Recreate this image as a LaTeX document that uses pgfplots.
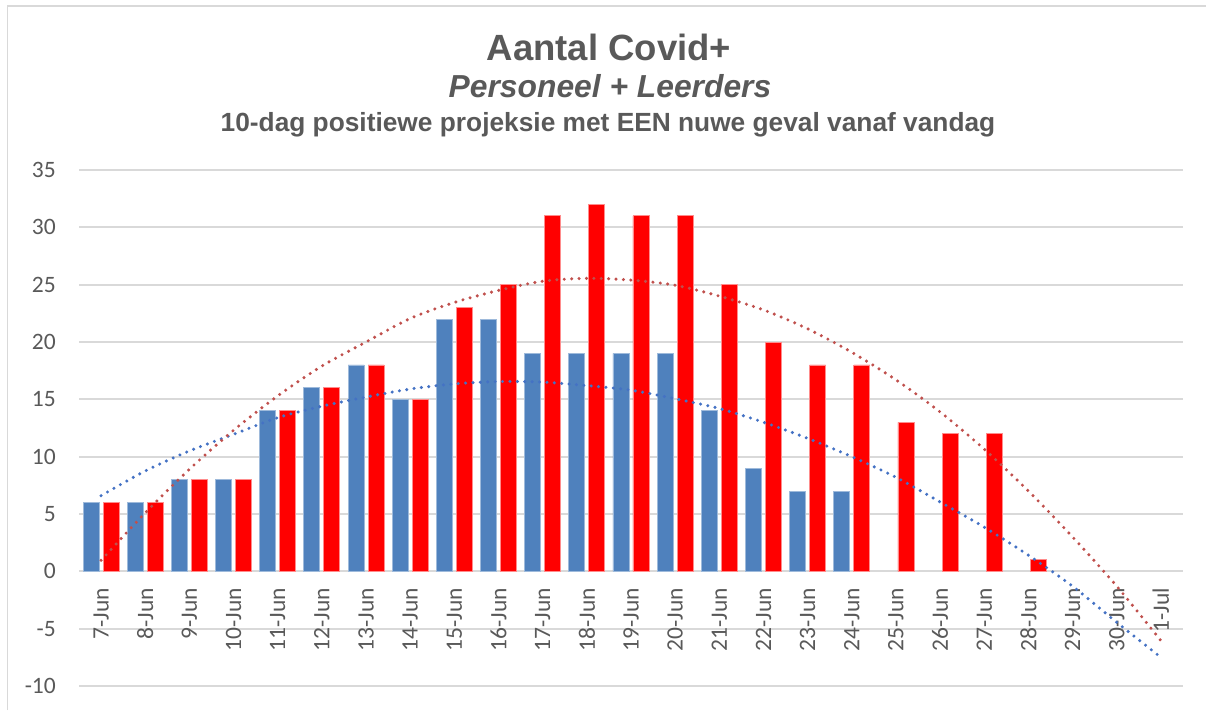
\documentclass[border=0pt]{standalone}
\usepackage{pgfplots}
\pgfplotsset{compat=1.18}
\usepackage{fontspec}
\setmainfont{Liberation Sans}
\newfontfamily\calibri{Carlito}
\definecolor{txtgray}{HTML}{595959}
\definecolor{gridgray}{HTML}{D9D9D9}
\definecolor{barblue}{HTML}{4F81BD}
\definecolor{barred}{HTML}{FF0000}
\definecolor{trendblue}{HTML}{4472C4}
\definecolor{trendred}{HTML}{C0504D}
\begin{document}
\begin{tikzpicture}[x=1pt,y=1pt]
\path[use as bounding box] (0,0) rectangle (1206,710);
\draw[gridgray, line width=1.2pt] (7.5,0) -- (7.5,704) -- (1206,704);
\node[anchor=base, font=\bfseries\fontsize{36.5}{40}\selectfont, text=txtgray] at (609,649) {Aantal Covid+};
\node[anchor=base, font=\bfseries\itshape\fontsize{31.8}{36}\selectfont, text=txtgray] at (610,612) {Personeel + Leerders};
\node[anchor=base, font=\bfseries\fontsize{26.3}{30}\selectfont, text=txtgray] at (608,578) {10-dag positiewe projeksie met EEN nuwe geval vanaf vandag};
\begin{axis}[
  at={(79pt,24pt)}, anchor=south west,
  scale only axis, width=1104pt, height=516pt,
  xmin=-0.5, xmax=24.5, ymin=-10, ymax=35,
  ytick={-10,-5,0,5,10,15,20,25,30,35},
  xtick={0,...,24},
  xticklabels={7-Jun,8-Jun,9-Jun,10-Jun,11-Jun,12-Jun,13-Jun,14-Jun,15-Jun,16-Jun,17-Jun,18-Jun,19-Jun,20-Jun,21-Jun,22-Jun,23-Jun,24-Jun,25-Jun,26-Jun,27-Jun,28-Jun,29-Jun,30-Jun,1-Jul},
  ymajorgrids, grid style={gridgray, line width=1.8pt},
  axis line style={draw=none}, tick style={draw=none}, major tick length=0pt,
  /pgf/number format/assume math mode=true,
  tick label style={font=\calibri\fontsize{23.5}{23.5}\selectfont, text=txtgray, inner sep=0pt},
  yticklabel style={anchor=east, xshift=-23pt},
  xticklabel style={yshift=98pt, rotate=90, anchor=east},
  clip=false,
]
\addplot[ybar, bar width=16pt, bar shift=-10pt, fill=barblue, draw=barblue!55!white, line width=0.8pt] coordinates {
(0,6) (1,6) (2,8) (3,8) (4,14) (5,16) (6,18) (7,15) (8,22) (9,22) (10,19) (11,19) (12,19) (13,19) (14,14) (15,9) (16,7) (17,7)};
\addplot[ybar, bar width=16pt, bar shift=10pt, fill=barred, draw=barred!45!white, line width=0.8pt] coordinates {
(0,6) (1,6) (2,8) (3,8) (4,14) (5,16) (6,18) (7,15) (8,23) (9,25) (10,31) (11,32) (12,31) (13,31) (14,25) (15,20) (16,18) (17,18) (18,13) (19,12) (20,12) (21,1)};
\addplot[trendblue, line width=3.4pt, line cap=round, dash pattern=on 0pt off 7.4pt, smooth] coordinates {
(0,6.6) (1,8.75) (2,10.5) (3,11.95) (4,13.4) (5,14.4) (6,15.2) (7,15.9) (8,16.35) (9,16.55) (10,16.5) (11,16.2) (12,15.8) (13,15.05) (14,14.2) (15,13.0) (16,11.6) (17,10.0) (18,8.2) (19,6.05) (20,3.85) (21,1.4) (22,-1.3) (23,-4.45) (24,-7.5)};
\addplot[trendred, line width=3.4pt, line cap=round, dash pattern=on 0pt off 7.4pt, smooth] coordinates {
(0,0.96) (1,5.1) (2,8.9) (3,12.3) (4,15.3) (5,17.9) (6,20.0) (7,22.05) (8,23.45) (9,24.5) (10,25.3) (11,25.55) (12,25.4) (13,24.95) (14,24.0) (15,22.8) (16,21.15) (17,19.1) (18,16.7) (19,13.9) (20,10.65) (21,7.0) (22,3.0) (23,-1.3) (24,-6.05)};
\end{axis}
\end{tikzpicture}
\end{document}
